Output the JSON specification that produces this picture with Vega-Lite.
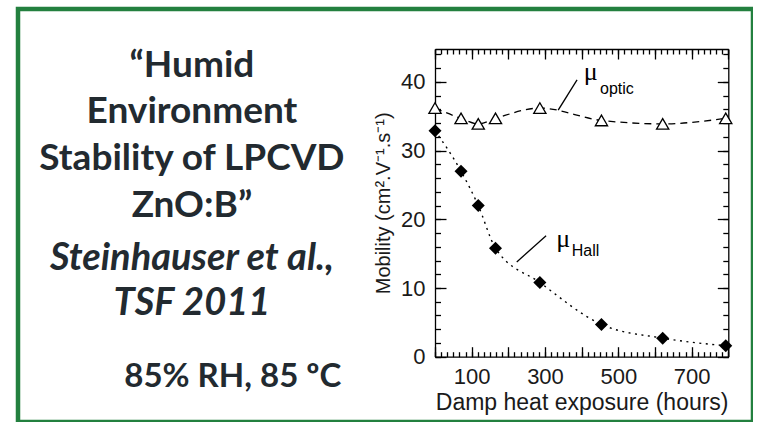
{
  "$schema": "https://vega.github.io/schema/vega-lite/v6.json",
  "width": 735,
  "height": 413,
  "autosize": {"type": "none"},
  "padding": {"left": 18, "top": 9, "right": 0, "bottom": 0},
  "background": "white",
  "config": {
    "view": {"stroke": "#23803f", "strokeWidth": 4.5},
    "axis": {
      "grid": false,
      "domainColor": "#000000",
      "domainWidth": 1.3,
      "tickColor": "#000000",
      "tickWidth": 1.3,
      "labelFont": "Liberation Sans",
      "labelFontSize": 22,
      "labelColor": "#1a1a1a",
      "labelOverlap": false,
      "labelFlush": false,
      "titleFont": "Liberation Sans",
      "titleFontWeight": "normal",
      "titleColor": "#1a1a1a"
    }
  },
  "datasets": {
    "mobility": [
      {"series": "Hall", "hours": 0, "mobility": 32.9},
      {"series": "Hall", "hours": 71, "mobility": 27.0},
      {"series": "Hall", "hours": 118, "mobility": 22.0},
      {"series": "Hall", "hours": 165, "mobility": 15.8},
      {"series": "Hall", "hours": 286, "mobility": 10.8},
      {"series": "Hall", "hours": 454, "mobility": 4.7},
      {"series": "Hall", "hours": 621, "mobility": 2.7},
      {"series": "Hall", "hours": 793, "mobility": 1.6},
      {"series": "optic", "hours": 0, "mobility": 36.2},
      {"series": "optic", "hours": 71, "mobility": 34.7},
      {"series": "optic", "hours": 118, "mobility": 33.9},
      {"series": "optic", "hours": 165, "mobility": 34.7},
      {"series": "optic", "hours": 286, "mobility": 36.2},
      {"series": "optic", "hours": 454, "mobility": 34.4},
      {"series": "optic", "hours": 621, "mobility": 33.9},
      {"series": "optic", "hours": 793, "mobility": 34.7}
    ],
    "leaders": [
      {"series": "optic", "hours": 336, "mobility": 35.9, "hours2": 387.5, "mobility2": 40.3},
      {"series": "Hall", "hours": 223, "mobility": 13.8, "hours2": 303, "mobility2": 17.6}
    ],
    "symbols": [
      {"series": "optic", "hours": 425, "mobility": 40.3, "label": "μ"},
      {"series": "Hall", "hours": 350, "mobility": 16.0, "label": "μ"}
    ],
    "subscripts": [
      {"series": "optic", "hours": 450, "mobility": 38.3, "label": "optic"},
      {"series": "Hall", "hours": 373, "mobility": 14.66, "label": "Hall"}
    ],
    "heading": [
      {"label": "“Humid", "hours": -663, "mobility": 40.76},
      {"label": "Environment", "hours": -663, "mobility": 33.97},
      {"label": "Stability of LPCVD", "hours": -663, "mobility": 27.18},
      {"label": "ZnO:B”", "hours": -663, "mobility": 20.38}
    ],
    "conditions": [
      {"label": "85% RH, 85 ºC", "hours": -551.5, "mobility": -4.37}
    ],
    "citation": [
      {"label": "Steinhauser et al.,", "hours": -663, "mobility": 12.62},
      {"label": "TSF 2011", "hours": -663, "mobility": 6.07}
    ]
  },
  "resolve": {"axis": {"x": "independent", "y": "independent"}},
  "layer": [
    {
      "data": {"name": "mobility"},
      "transform": [{"filter": "datum.series === 'Hall'"}],
      "mark": {"type": "line", "interpolate": "monotone", "color": "#000000", "strokeWidth": 1.4, "strokeDash": [2, 4.5]},
      "encoding": {
        "x": {
          "field": "hours", "type": "quantitative",
          "scale": {"domain": [0, 800], "range": [417, 710.3], "nice": false, "zero": false},
          "axis": {
            "orient": "bottom", "offset": -65.3,
            "values": [100, 300, 500, 700],
            "ticks": false, "tickSize": 0,
            "labelPadding": 10,
            "title": "Damp heat exposure (hours)",
            "titleFontSize": 23,
            "titlePadding": 4
          }
        },
        "y": {
          "field": "mobility", "type": "quantitative",
          "scale": {"domain": [0, 44.8], "range": [347.7, 40], "nice": false, "zero": false},
          "axis": {
            "orient": "left", "offset": -417,
            "values": [0, 10, 20, 30, 40],
            "ticks": false, "tickSize": 0,
            "labelPadding": 10,
            "title": "Mobility (cm².V⁻¹.s⁻¹)",
            "titleFontSize": 20,
            "titlePadding": 7
          }
        }
      }
    },
    {
      "data": {"name": "mobility"},
      "transform": [{"filter": "datum.series === 'Hall'"}],
      "mark": {"type": "point", "shape": "diamond", "filled": true, "color": "#000000", "size": 170, "opacity": 1},
      "encoding": {
        "x": {
          "field": "hours", "type": "quantitative",
          "axis": {
            "orient": "top", "offset": -347.7,
            "values": [0, 100, 200, 300, 400, 500, 600, 700, 800],
            "tickSize": 10, "labels": false, "domain": false, "title": null
          }
        },
        "y": {
          "field": "mobility", "type": "quantitative",
          "axis": {
            "orient": "right", "offset": -318,
            "values": [0, 10, 20, 30, 40],
            "tickSize": 11, "labels": false, "domain": false, "title": null
          }
        }
      }
    },
    {
      "data": {"name": "mobility"},
      "transform": [{"filter": "datum.series === 'optic'"}],
      "mark": {"type": "line", "interpolate": "monotone", "color": "#000000", "strokeWidth": 1.3, "strokeDash": [7, 5]},
      "encoding": {
        "x": {
          "field": "hours", "type": "quantitative",
          "axis": {
            "orient": "top", "offset": -347.7,
            "values": [0, 16.667, 33.333, 50, 66.667, 83.333, 100, 116.667, 133.333, 150, 166.667, 183.333, 200, 216.667, 233.333, 250, 266.667, 283.333, 300, 316.667, 333.333, 350, 366.667, 383.333, 400, 416.667, 433.333, 450, 466.667, 483.333, 500, 516.667, 533.333, 550, 566.667, 583.333, 600, 616.667, 633.333, 650, 666.667, 683.333, 700, 716.667, 733.333, 750, 766.667, 783.333, 800],
            "tickSize": 5, "labels": false, "domain": false, "title": null
          }
        },
        "y": {
          "field": "mobility", "type": "quantitative",
          "axis": {
            "orient": "right", "offset": -318,
            "values": [0, 2, 4, 6, 8, 10, 12, 14, 16, 18, 20, 22, 24, 26, 28, 30, 32, 34, 36, 38, 40, 42, 44],
            "tickSize": 5.5, "labels": false, "domain": false, "title": null
          }
        }
      }
    },
    {
      "data": {"name": "mobility"},
      "transform": [{"filter": "datum.series === 'optic'"}],
      "mark": {"type": "point", "shape": "triangle-up", "filled": false, "fill": "white", "stroke": "#000000", "strokeWidth": 1.3, "size": 150, "opacity": 1},
      "encoding": {
        "x": {
          "field": "hours", "type": "quantitative",
          "axis": {
            "orient": "bottom", "offset": -373,
            "values": [0, 100, 200, 300, 400, 500, 600, 700, 800],
            "tickSize": 10, "labels": false, "domain": true, "title": null
          }
        },
        "y": {
          "field": "mobility", "type": "quantitative",
          "axis": {
            "orient": "left", "offset": -710.3,
            "values": [0, 10, 20, 30, 40],
            "tickSize": 11, "labels": false, "domain": true, "title": null
          }
        }
      }
    },
    {
      "data": {"name": "leaders"},
      "mark": {"type": "rule", "color": "#000000", "strokeWidth": 1.3},
      "encoding": {
        "x": {
          "field": "hours", "type": "quantitative",
          "axis": {
            "orient": "bottom", "offset": -373,
            "values": [0, 16.667, 33.333, 50, 66.667, 83.333, 100, 116.667, 133.333, 150, 166.667, 183.333, 200, 216.667, 233.333, 250, 266.667, 283.333, 300, 316.667, 333.333, 350, 366.667, 383.333, 400, 416.667, 433.333, 450, 466.667, 483.333, 500, 516.667, 533.333, 550, 566.667, 583.333, 600, 616.667, 633.333, 650, 666.667, 683.333, 700, 716.667, 733.333, 750, 766.667, 783.333, 800],
            "tickSize": 5, "labels": false, "domain": false, "title": null
          }
        },
        "y": {
          "field": "mobility", "type": "quantitative",
          "axis": {
            "orient": "left", "offset": -710.3,
            "values": [0, 2, 4, 6, 8, 10, 12, 14, 16, 18, 20, 22, 24, 26, 28, 30, 32, 34, 36, 38, 40, 42, 44],
            "tickSize": 5.5, "labels": false, "domain": false, "title": null
          }
        },
        "x2": {"field": "hours2"},
        "y2": {"field": "mobility2"}
      }
    },
    {
      "data": {"name": "symbols"},
      "mark": {"type": "text", "font": "Liberation Serif", "fontSize": 26, "color": "#000000", "align": "center", "baseline": "alphabetic"},
      "encoding": {
        "x": {"field": "hours", "type": "quantitative", "axis": null},
        "y": {"field": "mobility", "type": "quantitative", "axis": null},
        "text": {"field": "label"}
      }
    },
    {
      "data": {"name": "subscripts"},
      "mark": {"type": "text", "font": "Liberation Sans", "fontSize": 16, "color": "#000000", "align": "left", "baseline": "alphabetic"},
      "encoding": {
        "x": {"field": "hours", "type": "quantitative", "axis": null},
        "y": {"field": "mobility", "type": "quantitative", "axis": null},
        "text": {"field": "label"}
      }
    },
    {
      "data": {"name": "heading"},
      "mark": {"type": "text", "font": "Lato", "fontWeight": "bold", "fontSize": 37, "color": "#222a30", "align": "center", "baseline": "alphabetic"},
      "encoding": {
        "x": {"field": "hours", "type": "quantitative", "axis": null},
        "y": {"field": "mobility", "type": "quantitative", "axis": null},
        "text": {"field": "label"}
      }
    },
    {
      "data": {"name": "conditions"},
      "mark": {"type": "text", "font": "Lato", "fontWeight": "bold", "fontSize": 33, "color": "#222a30", "align": "center", "baseline": "alphabetic"},
      "encoding": {
        "x": {"field": "hours", "type": "quantitative", "axis": null},
        "y": {"field": "mobility", "type": "quantitative", "axis": null},
        "text": {"field": "label"}
      }
    },
    {
      "data": {"name": "citation"},
      "mark": {"type": "text", "font": "Lato", "fontWeight": "bold", "fontStyle": "italic", "fontSize": 38, "color": "#222a30", "align": "center", "baseline": "alphabetic"},
      "encoding": {
        "x": {"field": "hours", "type": "quantitative", "axis": null},
        "y": {"field": "mobility", "type": "quantitative", "axis": null},
        "text": {"field": "label"}
      }
    }
  ]
}
